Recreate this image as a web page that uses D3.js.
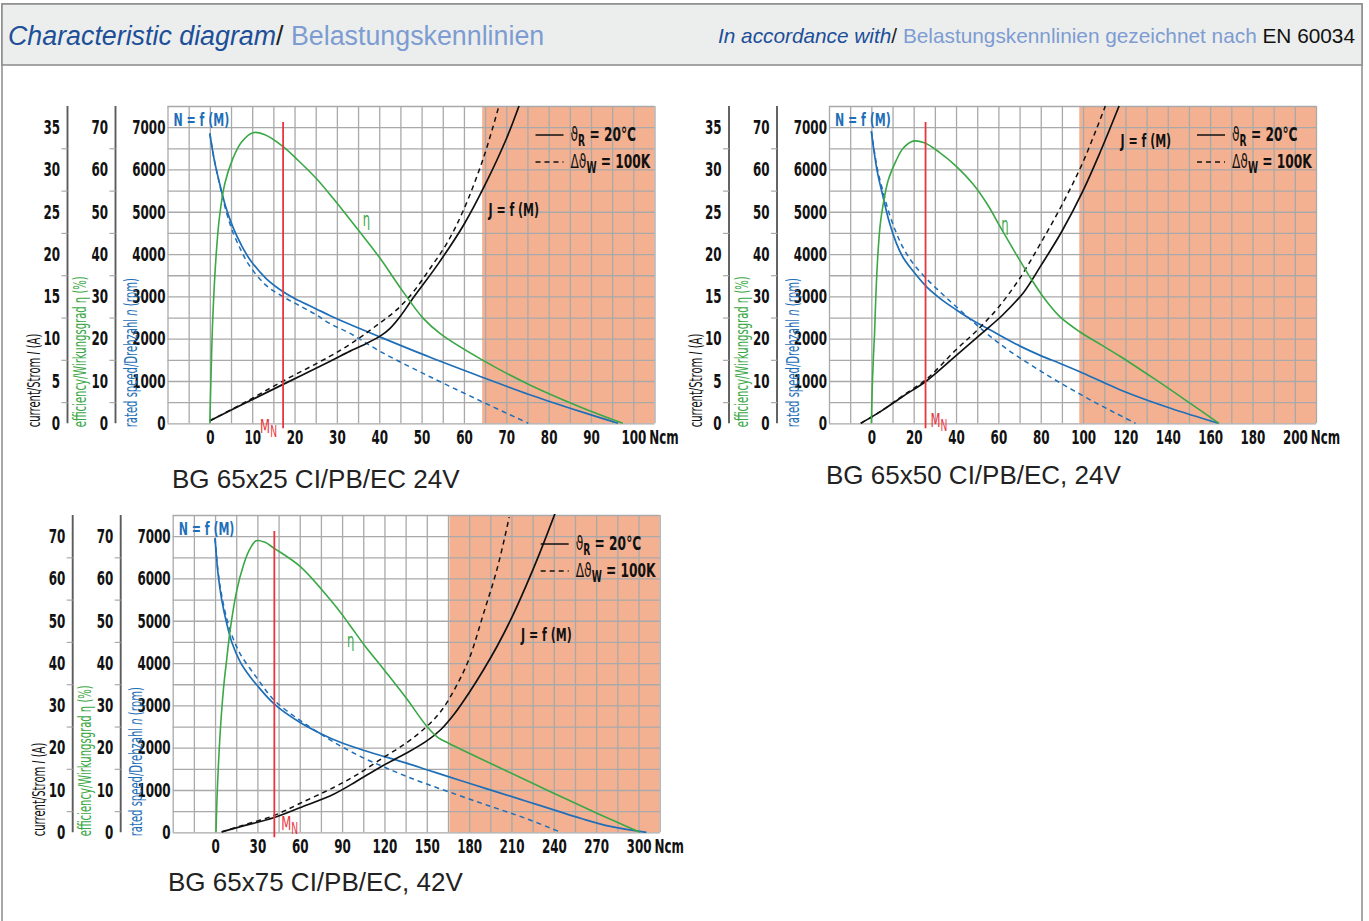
<!DOCTYPE html>
<html>
<head>
<meta charset="utf-8">
<script src="https://cdn.jsdelivr.net/npm/d3@7"></script>
<style>
  body { margin: 0; background: #fff; }
  svg { display: block; }
</style>
</head>
<body>
<div class="chart"></div>
<script>
// ---- data ----
// axis tick labels
const speedTicks = [0, 1000, 2000, 3000, 4000, 5000, 6000, 7000];
const etaTicks = [0, 10, 20, 30, 40, 50, 60, 70];

// BG 65x25 CI/PB/EC 24V  (torque Ncm -> rpm / % / A)
const m25TorqueTicks = [0, 10, 20, 30, 40, 50, 60, 70, 80, 90, 100];
const m25CurrentTicks = [0, 5, 10, 15, 20, 25, 30, 35];
const m25SpeedCold = [[0, 6850], [1, 6250], [2.3, 5670], [3.8, 5100], [5.4, 4650], [7.4, 4220], [9.4, 3880], [13.3, 3420], [17.3, 3110], [21, 2900], [25, 2710], [28.3, 2550], [33, 2340], [40.2, 2040], [52, 1560], [64.3, 1090], [75.7, 670], [87.6, 275], [96.4, 0]];
const m25SpeedHot = [[0, 6850], [1, 6250], [2.3, 5650], [3.8, 5030], [5.4, 4530], [7.4, 4080], [9.4, 3720], [13.3, 3260], [17.3, 2990], [21, 2790], [25, 2570], [28.3, 2360], [33, 2130], [40.2, 1700], [52, 1100], [64.3, 510], [75.2, 0]];
const m25Eta = [[0, 0], [0.3, 12], [0.7, 25], [1.5, 40], [2.3, 49], [3.5, 56.5], [5.4, 62.5], [7.5, 66.5], [10.2, 68.7], [13, 68.2], [17.3, 65.4], [21, 62], [25.2, 57.8], [29, 53.3], [33, 48.3], [40.2, 39], [45, 32], [50.4, 24.8], [54.4, 21.2], [64.3, 15], [75.7, 9], [87.6, 3.8], [97.5, 0]];
const m25CurrentCold = [[0, 0.3], [8, 2.3], [17.3, 4.6], [28.3, 7.3], [33, 8.5], [36, 9.2], [40.2, 10.3], [42.5, 11.2], [44.9, 12.6], [48, 14.8], [54, 18.9], [60, 23.5], [65, 28.2], [70, 33.6], [73, 37.5]];
const m25CurrentHot = [[0, 0.3], [8, 2.4], [17.3, 5.0], [28.3, 7.9], [33, 9.3], [36.2, 10.4], [40, 11.8], [44.1, 13.4], [48, 15.5], [52, 18.3], [56, 21.3], [59.9, 25.2], [64.7, 31.5], [68.2, 37.4]];
const m25Rated = 17.3;
const m25Limit = 64.3;

// BG 65x50 CI/PB/EC, 24V
const m50TorqueTicks = [0, 20, 40, 60, 80, 100, 120, 140, 160, 180, 200];
const m50CurrentTicks = [0, 5, 10, 15, 20, 25, 30, 35];
const m50SpeedCold = [[0, 6900], [1.5, 6350], [3, 5900], [5.5, 5360], [8.5, 4750], [11.8, 4260], [15, 3920], [19.7, 3600], [26, 3230], [33, 2930], [40.2, 2680], [48, 2430], [56, 2210], [70, 1830], [80, 1600], [89.2, 1415], [98.2, 1225], [110, 960], [120, 740], [141.3, 355], [163.9, 0]];
const m50SpeedHot = [[0, 6900], [1.5, 6400], [3, 5980], [5.5, 5480], [8.5, 4950], [11.8, 4500], [15, 4150], [19.7, 3780], [26, 3420], [33, 3080], [40, 2760], [48, 2400], [56, 2060], [65, 1720], [75, 1390], [85, 1080], [95, 790], [105, 510], [115, 250], [124.8, 0]];
const m50Eta = [[0, 0], [0.4, 8], [1, 16], [1.5, 21], [2.2, 31], [3.1, 40], [4.2, 47], [5.5, 51.5], [8, 57.5], [11.8, 62.2], [15, 65], [19.7, 66.7], [25, 66.3], [32.3, 64], [40, 60.8], [48.1, 56.5], [55, 51.6], [61, 46.3], [68, 40.3], [75, 34.5], [82, 29.3], [89, 25.2], [98.2, 21.7], [108, 18.7], [117.6, 15.8], [133.4, 10.6], [149.2, 5.2], [164.2, 0]];
const m50CurrentCold = [[-5, 0], [5, 1.5], [15, 3.2], [26, 5.0], [40, 8.0], [52, 10.6], [62, 12.8], [72, 15.5], [80, 18.6], [90, 22.7], [100, 27.5], [108, 32], [117, 37.5]];
const m50CurrentHot = [[-5, 0], [5, 1.5], [15, 3.3], [26, 5.2], [40, 8.7], [50, 11], [60, 13.7], [70, 17.1], [80, 21.3], [90, 25.8], [100, 30.9], [110.5, 37.5]];
const m50Rated = 25.6;
const m50Limit = 98.2;

// BG 65x75 CI/PB/EC, 42V
const m75TorqueTicks = [0, 30, 60, 90, 120, 150, 180, 210, 240, 270, 300];
const m75CurrentTicks = [0, 10, 20, 30, 40, 50, 60, 70];
const m75SpeedCold = [[0, 6950], [2, 6150], [4.7, 5500], [8.3, 4930], [12, 4480], [17.8, 4030], [23, 3760], [29.6, 3480], [42, 3030], [60, 2600], [75, 2330], [90, 2110], [105, 1940], [120, 1790], [135, 1640], [150, 1480], [165.8, 1310], [180, 1160], [200, 950], [220, 740], [240, 530], [260, 320], [280, 140], [305.6, 0]];
const m75SpeedHot = [[0, 6950], [2, 6200], [4.7, 5600], [8.3, 5050], [12, 4650], [17.8, 4220], [29.6, 3650], [42, 3120], [60, 2650], [75, 2320], [90, 2020], [105, 1760], [120, 1540], [135, 1330], [150, 1140], [165.8, 955], [185, 730], [200, 560], [220, 330], [245, 0]];
const m75Eta = [[0.7, 0], [1.5, 9], [3.6, 23.4], [6, 34], [8.3, 41], [11, 48.5], [15.4, 57.2], [20, 63], [24, 66.5], [29.1, 68.9], [35, 68.6], [42, 67.1], [60.4, 62.8], [84, 54], [95, 49.2], [105.4, 44.4], [120, 38.3], [135, 31.9], [150.4, 24.9], [158, 22.4], [165.8, 21], [200.2, 15.5], [235.7, 9.9], [271.3, 4.4], [300.9, 0]];
const m75CurrentCold = [[4.7, 0.1], [20, 1.5], [42, 3.5], [60, 5.8], [84, 9], [100, 12], [117, 15.4], [135, 18.6], [150, 21.6], [160, 24.3], [170, 28.2], [180, 33], [190, 38.3], [200, 44.1], [210, 50.6], [220, 58], [230, 66], [241, 75.5]];
const m75CurrentHot = [[4.7, 0.1], [20, 1.7], [42, 4], [60, 6.8], [84, 10.6], [100, 13.5], [117, 17.2], [135, 21], [150, 25], [160, 28.6], [170, 34], [180, 41], [190, 51.5], [200, 62.5], [208.4, 74.5]];
const m75Rated = 42;
const m75Limit = 166;

// ---- layout ----
const width = 1369;
const height = 921;
const plotW = 487;
const plotH = 317.3;
const SX = 0.68; // horizontal squeeze for the condensed label font
const NARROW = "'Liberation Sans Narrow', 'Arial Narrow', 'DejaVu Sans Condensed', sans-serif";
const SANS = "'Liberation Sans', Arial, Helvetica, sans-serif";
const BLUE = '#1f6fb8';
const GREEN = '#3aa845';
const RED = '#e8353e';
const SHADE = '#f4b192';
const GRID = '#a9a9a9';

const panels = [
  {
    title: 'BG 65x25 CI/PB/EC 24V', titleX: 172, titleY: 488,
    left: 167.5, top: 106, xDomain: [-10, 105], xStep: 5,
    torqueTicks: m25TorqueTicks, currentTicks: m25CurrentTicks,
    speedCold: m25SpeedCold, speedHot: m25SpeedHot, eta: m25Eta,
    currentCold: m25CurrentCold, currentHot: m25CurrentHot,
    rated: m25Rated, limit: m25Limit,
    etaLabel: [37, 47.7], jLabel: [65.8, 25.2],
    mn: {dx: -23, dy: 10}
  },
  {
    title: 'BG 65x50 CI/PB/EC, 24V', titleX: 826, titleY: 484,
    left: 829, top: 106, xDomain: [-20, 210], xStep: 10,
    torqueTicks: m50TorqueTicks, currentTicks: m50CurrentTicks,
    speedCold: m50SpeedCold, speedHot: m50SpeedHot, eta: m50Eta,
    currentCold: m50CurrentCold, currentHot: m50CurrentHot,
    rated: m50Rated, limit: m50Limit,
    etaLabel: [63.1, 46.6], jLabel: [117.7, 33.4],
    mn: {dx: 5, dy: 4}
  },
  {
    title: 'BG 65x75 CI/PB/EC, 42V', titleX: 168, titleY: 891,
    left: 172.7, top: 515, xDomain: [-30, 315], xStep: 15,
    torqueTicks: m75TorqueTicks, currentTicks: m75CurrentTicks,
    speedCold: m75SpeedCold, speedHot: m75SpeedHot, eta: m75Eta,
    currentCold: m75CurrentCold, currentHot: m75CurrentHot,
    rated: m75Rated, limit: m75Limit,
    etaLabel: [96, 44.9], jLabel: [216.8, 46.6],
    mn: {dx: 7, dy: -2}
  }
];

const svg = d3.select('.chart').append('svg')
    .attr('width', width)
    .attr('height', height)
    .style('font-family', SANS);

// ---- page frame and header ----
svg.append('rect')
    .attr('x', 2).attr('y', 4)
    .attr('width', 1360).attr('height', height + 10)
    .attr('fill', '#fff')
    .attr('stroke', '#8a8a8a')
    .attr('stroke-width', 1.5);
svg.append('rect')
    .attr('x', 2).attr('y', 4)
    .attr('width', 1360).attr('height', 61)
    .attr('fill', '#eceeed')
    .attr('stroke', '#8a8a8a')
    .attr('stroke-width', 1.5);

const head = svg.append('text')
    .attr('x', 8).attr('y', 45)
    .style('font-size', '26.8px');
head.append('tspan').attr('fill', '#1d4f99').style('font-style', 'italic').text('Characteristic diagram');
head.append('tspan').attr('fill', '#222').text('/ ');
head.append('tspan').attr('fill', '#7d9cd2').text('Belastungskennlinien');

const headRight = svg.append('text')
    .attr('x', 1355).attr('y', 43)
    .attr('text-anchor', 'end')
    .style('font-size', '20.8px');
headRight.append('tspan').attr('fill', '#1d4f99').style('font-style', 'italic').text('In accordance with');
headRight.append('tspan').attr('fill', '#222').text('/ ');
headRight.append('tspan').attr('fill', '#7d9cd2').text('Belastungskennlinien gezeichnet nach ');
headRight.append('tspan').attr('fill', '#111').text('EN 60034');

// condensed text helper
function narrowText(g, x, y, size, fill, anchor) {
  return g.append('text')
      .attr('transform', `translate(${x},${y}) scale(${SX},1)`)
      .attr('text-anchor', anchor || 'start')
      .attr('fill', fill)
      .style('font-family', NARROW)
      .style('font-weight', 'bold')
      .style('font-size', size + 'px');
}

function styleTicks(sel) {
  sel.attr('transform', `scale(${SX},1)`)
      .attr('fill', '#111')
      .style('font-family', NARROW)
      .style('font-weight', 'bold')
      .style('font-size', '19.5px');
}

panels.forEach((p, idx) => {
  const g = svg.append('g').attr('transform', `translate(${p.left},${p.top})`);
  const iMax = p.currentTicks[p.currentTicks.length - 1];

  const x = d3.scaleLinear().domain(p.xDomain).range([0, plotW]);
  const yN = d3.scaleLinear().domain([0, 7500]).range([plotH, 0]);
  const yEta = d3.scaleLinear().domain([0, 75]).range([plotH, 0]);
  const yI = d3.scaleLinear().domain([0, iMax * 7500 / 7000]).range([plotH, 0]);

  // overload region
  g.append('rect')
      .attr('x', x(p.limit)).attr('y', 0)
      .attr('width', plotW - x(p.limit)).attr('height', plotH)
      .attr('fill', SHADE);

  // grid
  const gridX = d3.range(p.xDomain[0], p.xDomain[1] + 0.01, p.xStep);
  const gridY = d3.range(0, 7501, 500);
  g.append('g')
      .call(d3.axisBottom(x).tickValues(gridX).tickSize(plotH).tickFormat(''))
      .call(a => a.select('.domain').remove())
      .call(a => a.selectAll('.tick line').attr('stroke', GRID).attr('stroke-width', 1.3));
  g.append('g')
      .call(d3.axisRight(yN).tickValues(gridY).tickSize(plotW).tickFormat(''))
      .call(a => a.select('.domain').remove())
      .call(a => a.selectAll('.tick line').attr('stroke', GRID).attr('stroke-width', 1.3));

  // torque axis labels
  g.append('g')
      .attr('transform', `translate(0,${plotH})`)
      .call(d3.axisBottom(x).tickValues(p.torqueTicks).tickSize(0))
      .call(a => a.select('.domain').remove())
      .call(a => a.selectAll('text').attr('y', 21).attr('dy', 0).call(styleTicks));
  const lastTick = p.torqueTicks[p.torqueTicks.length - 1];
  narrowText(g, x(lastTick) + 16, plotH + 21, 19.5, '#111').text('Ncm');

  // speed axis labels
  g.append('g')
      .call(d3.axisLeft(yN).tickValues(speedTicks).tickSize(0).tickPadding(3).tickFormat(d3.format('d')))
      .call(a => a.select('.domain').remove())
      .call(a => a.selectAll('text').call(styleTicks));

  // current and efficiency axes (separate spines left of the grid)
  const spines = [
    {dx: -100, scale: yI, ticks: p.currentTicks, step: p.currentTicks[1]},
    {dx: -52, scale: yEta, ticks: etaTicks, step: 10}
  ];
  spines.forEach(s => {
    const a = g.append('g').attr('transform', `translate(${s.dx},0)`);
    a.append('line')
        .attr('y1', 0).attr('y2', plotH)
        .attr('stroke', '#5c5c5c').attr('stroke-width', 1.9);
    const minor = s.ticks.slice(0, -1).map(t => t + s.step / 2);
    a.append('g')
        .call(d3.axisLeft(s.scale).tickValues(minor).tickSize(6).tickFormat(''))
        .call(b => b.select('.domain').remove())
        .call(b => b.selectAll('.tick line').attr('stroke', '#aaa').attr('stroke-width', 1.2));
    a.append('g')
        .call(d3.axisLeft(s.scale).tickValues(s.ticks).tickSize(0).tickPadding(11).tickFormat(d3.format('d')))
        .call(b => b.select('.domain').remove())
        .call(b => b.selectAll('text').call(styleTicks));
  });

  // axis titles (rotated)
  const titles = [
    {dx: -133.5, fill: '#111', parts: [['current/Strom ', 'normal'], ['I', 'italic'], [' (A)', 'normal']]},
    {dx: -87.5, fill: GREEN, parts: [['efficiency/Wirkungsgrad ', 'normal'], ['η', 'normal'], [' (%)', 'normal']]},
    {dx: -36.5, fill: BLUE, parts: [['rated speed/Drehzahl ', 'normal'], ['n', 'italic'], [' (rpm)', 'normal']]}
  ];
  titles.forEach(t => {
    const txt = g.append('text')
        .attr('transform', `translate(${t.dx + 6},${plotH + 4}) rotate(-90) scale(0.62,1)`)
        .attr('fill', t.fill)
        .style('font-family', NARROW)
        .style('font-size', '18px');
    t.parts.forEach(([s, st]) => txt.append('tspan').style('font-style', st).text(s));
  });

  // curves
  const clipId = 'clip' + idx;
  g.append('clipPath').attr('id', clipId)
    .append('rect').attr('width', plotW).attr('height', plotH + 2).attr('y', -1);
  const curves = g.append('g').attr('clip-path', `url(#${clipId})`);
  const lineOf = y => d3.line().x(d => x(d[0])).y(d => y(d[1])).curve(d3.curveCatmullRom.alpha(0.5));

  const series = [
    {data: p.speedHot, y: yN, color: BLUE, dash: '5,4', w: 1.5},
    {data: p.speedCold, y: yN, color: BLUE, dash: null, w: 1.7},
    {data: p.currentHot, y: yI, color: '#111', dash: '5,4', w: 1.5},
    {data: p.currentCold, y: yI, color: '#111', dash: null, w: 1.7},
    {data: p.eta, y: yEta, color: GREEN, dash: null, w: 1.6}
  ];
  curves.selectAll('path')
    .data(series)
    .join('path')
      .attr('d', s => lineOf(s.y)(s.data))
      .attr('fill', 'none')
      .attr('stroke', s => s.color)
      .attr('stroke-width', s => s.w)
      .attr('stroke-dasharray', s => s.dash);

  // rated torque marker
  g.append('line')
      .attr('x1', x(p.rated)).attr('x2', x(p.rated))
      .attr('y1', yN(7120)).attr('y2', plotH + 5)
      .attr('stroke', RED).attr('stroke-width', 1.8);
  const mn = narrowText(g, x(p.rated) + p.mn.dx, plotH + p.mn.dy, 19, RED);
  mn.append('tspan').style('font-weight', 'normal').text('M');
  mn.append('tspan').attr('dy', 4).style('font-weight', 'normal').style('font-size', '15px').text('N');

  // curve labels
  narrowText(g, 6, 20, 18, BLUE).text('N = f (M)');
  narrowText(g, x(p.etaLabel[0]), yEta(p.etaLabel[1]) + 5, 19, GREEN, 'middle')
      .style('font-weight', 'normal').text('η');
  narrowText(g, x(p.jLabel[0]), yI(p.jLabel[1]) + 6, 18, '#111').text('J = f (M)');

  // legend
  const lg = g.append('g').attr('transform', `translate(${plotW - 119},0)`);
  [{y: 29, dash: null, pre: '', sub: 'R', rest: ' = 20\u00b0C'},
   {y: 56, dash: '5,4', pre: 'Δ', sub: 'W', rest: ' = 100K'}].forEach(l => {
    lg.append('line')
        .attr('x1', 0).attr('x2', 28)
        .attr('y1', l.y).attr('y2', l.y)
        .attr('stroke', '#111').attr('stroke-width', 1.5)
        .attr('stroke-dasharray', l.dash);
    const t = narrowText(lg, 35, l.y + 6, 20, '#111');
    t.append('tspan').style('font-weight', 'normal').text(l.pre + 'ϑ');
    t.append('tspan').attr('dy', 5).style('font-size', '15px').text(l.sub);
    t.append('tspan').attr('dy', -5).text(l.rest);
  });

  // diagram title
  svg.append('text')
      .attr('x', p.titleX).attr('y', p.titleY)
      .attr('fill', '#222')
      .style('font-size', '26px')
      .text(p.title);
});
</script>
</body>
</html>
